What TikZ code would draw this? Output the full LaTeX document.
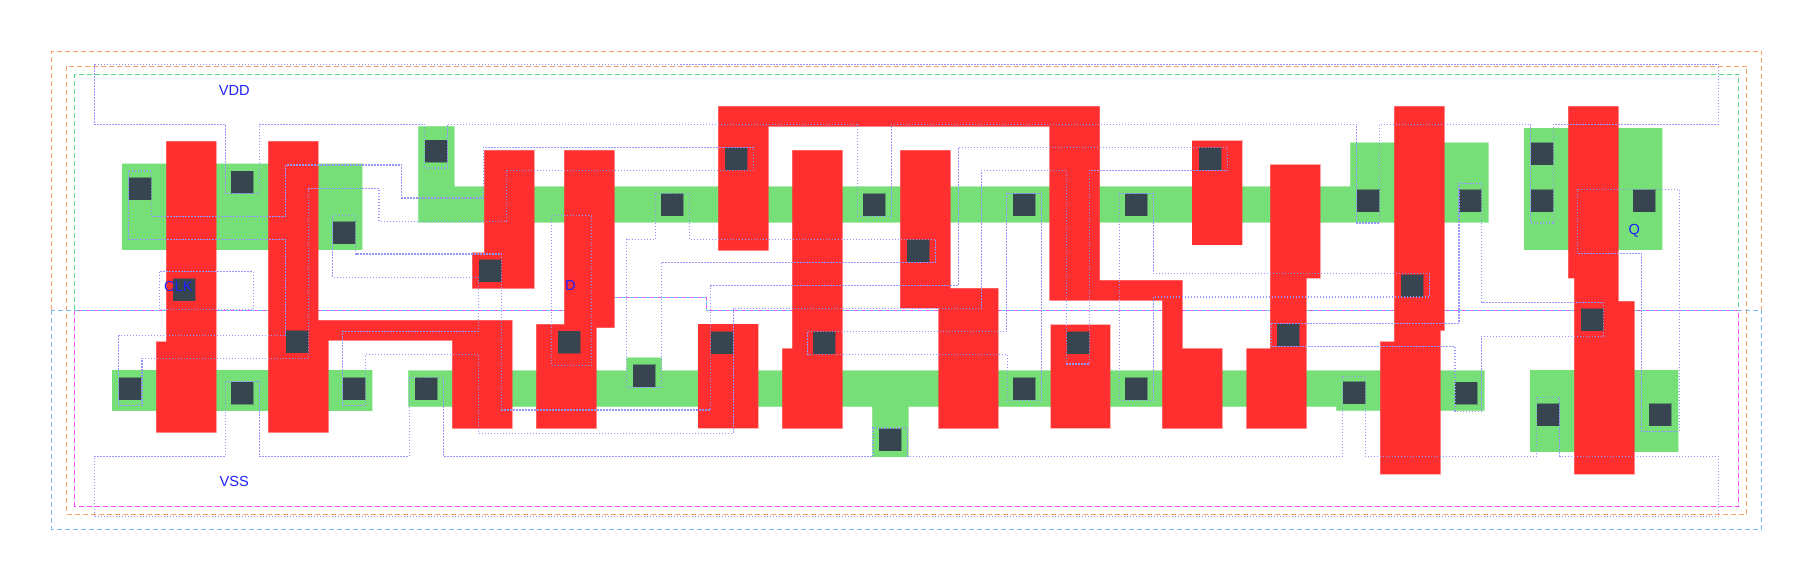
\documentclass[tikz,border=0pt]{standalone}
\usepackage{fontspec}
\setmainfont{Liberation Sans}
\definecolor{polyred}{HTML}{FF2F2F}
\definecolor{diffgreen}{HTML}{77DF77}
\definecolor{contactgrey}{HTML}{374551}
\definecolor{metalblue}{HTML}{9696FF}
\definecolor{wellorange}{HTML}{FF9E66}
\definecolor{wellgreen}{HTML}{55DD88}
\definecolor{wellblue}{HTML}{7DBBF5}
\definecolor{wellpink}{HTML}{FF44FF}
\definecolor{labelblue}{HTML}{1F1FFF}
\tikzset{
  diff/.style={fill=diffgreen,draw=diffgreen,draw opacity=.4,line width=.5pt},
  poly/.style={fill=polyred,draw=polyred,draw opacity=.35,line width=.6pt},
  contact/.style={fill=contactgrey,draw=contactgrey,draw opacity=.45,line width=.5pt},
  metal/.style={draw=metalblue,line width=.55pt,dash pattern=on .75pt off .75pt},
  well/.style={line width=.55pt,dash pattern=on 2.5pt off 1.5pt},
  pin/.style={text=labelblue,font=\fontsize{7.3pt}{8pt}\selectfont,inner sep=0pt}
}
\begin{document}
\begin{tikzpicture}[x=0.5pt,y=-0.5pt]
\useasboundingbox (0,0) rectangle (1813,581);
% well and cell boundaries
\draw[well,wellorange] (51.5,310.5) -- (51.5,51.5) -- (1761.5,51.5) -- (1761.5,310.5) -- (706.7,310.5) -- (706.7,297.7) -- (590,297.7) -- (590,310.5) -- cycle;
\draw[well,wellorange] (66.5,66.5) rectangle (1746.5,514.5);
\draw[well,wellgreen] (74.5,310.5) -- (74.5,74.5) -- (1738.5,74.5) -- (1738.5,310.5) -- (706.7,310.5) -- (706.7,297.7) -- (590,297.7) -- (590,310.5) -- cycle;
\draw[well,wellpink] (74.5,310.5) -- (74.5,506.5) -- (1738.5,506.5) -- (1738.5,310.5) -- (706.7,310.5) -- (706.7,297.7) -- (590,297.7) -- (590,310.5) -- cycle;
\draw[well,wellblue] (51.5,310.5) -- (51.5,529.5) -- (1761.5,529.5) -- (1761.5,310.5) -- (706.7,310.5) -- (706.7,297.7) -- (590,297.7) -- (590,310.5) -- cycle;
% diffusion
\draw[diff] (122.3,164) rectangle (362,250);
\draw[diff] (418.3,126.5) -- (454.3,126.5) -- (454.3,186.7) -- (1350.3,186.7) -- (1350.3,143) -- (1488.3,143) -- (1488.3,222.5) -- (418.3,222.5) -- cycle;
\draw[diff] (1524.3,128.5) rectangle (1662.3,250);
\draw[diff] (112.3,370.5) rectangle (372.3,410.7);
\draw[diff] (408.3,370.7) -- (626.7,370.7) -- (626.7,358) -- (661.7,358) -- (661.7,370.7) -- (1484.3,370.7) -- (1484.3,410.7) -- (1336.3,410.7) -- (1336.3,406.7) -- (908.3,406.7) -- (908.3,457) -- (872.3,457) -- (872.3,406.7) -- (408.3,406.7) -- cycle;
\draw[diff] (1530.3,370.5) rectangle (1678.3,452);
% polysilicon
\draw[poly] (166.3,141.5) -- (216,141.5) -- (216,432.5) -- (156.3,432.5) -- (156.3,342) -- (166.3,342) -- cycle;
\draw[poly] (268.3,141.5) -- (318,141.5) -- (318,320.5) -- (512,320.5) -- (512,428.5) -- (452.3,428.5) -- (452.3,340.5) -- (328.3,340.5) -- (328.3,432.5) -- (268.3,432.5) -- cycle;
\draw[poly] (484.3,150.5) -- (534,150.5) -- (534,288.5) -- (472.3,288.5) -- (472.3,253) -- (484.3,253) -- cycle;
\draw[poly] (564.3,150.5) -- (614.3,150.5) -- (614.3,327.7) -- (596.3,327.7) -- (596.3,428.5) -- (536.3,428.5) -- (536.3,324.5) -- (564.3,324.5) -- cycle;
\draw[poly] (718.3,106.5) -- (1099.7,106.5) -- (1099.7,280.5) -- (1182.3,280.5) -- (1182.3,348.7) -- (1222,348.7) -- (1222,428.5) -- (1162.3,428.5) -- (1162.3,300.5) -- (1049.7,300.5) -- (1049.7,126.5) -- (768.3,126.5) -- (768.3,250.5) -- (718.3,250.5) -- cycle;
\draw[poly] (698.3,324.5) rectangle (758,428.5);
\draw[poly] (792.3,150.5) -- (842.3,150.5) -- (842.3,428.5) -- (782.3,428.5) -- (782.3,348.7) -- (792.3,348.7) -- cycle;
\draw[poly] (900.3,150.5) -- (950.3,150.5) -- (950.3,288.5) -- (998,288.5) -- (998,428.5) -- (938.7,428.5) -- (938.7,308) -- (900.3,308) -- cycle;
\draw[poly] (1050.7,324.7) rectangle (1110,428.5);
\draw[poly] (1192.3,140.7) rectangle (1242.3,244.7);
\draw[poly] (1270.3,165) -- (1320,165) -- (1320,278) -- (1306.3,278) -- (1306.3,428.5) -- (1246.7,428.5) -- (1246.7,348.7) -- (1270.3,348.7) -- cycle;
\draw[poly] (1394.3,106.5) -- (1444.3,106.5) -- (1444.3,330.5) -- (1440.3,330.5) -- (1440.3,474) -- (1380.3,474) -- (1380.3,342) -- (1394.3,342) -- cycle;
\draw[poly] (1568.3,106.5) -- (1618.3,106.5) -- (1618.3,301.5) -- (1634.3,301.5) -- (1634.3,474) -- (1574.3,474) -- (1574.3,278) -- (1568.3,278) -- cycle;
% contacts
\foreach \cx/\cy in {129.3/177.7,231.3/171.3,333.3/221.7,173.3/279,425.3/140.3,119.3/377.7,231.3/382.3,286.3/330.7,343.3/377.7,415.3/378,479.3/260,725.3/148,661.3/194,863.3/194,907.3/240,558/331.3,633.3/365,711.3/331.7,813.3/332,879.3/428.7,1013/194,1125.3/194,1199.3/148,1067/332,1013.3/378,1125.3/378,1277.3/324.3,1343.3/382,1357.3/189.7,1459.3/189.7,1531.3/142.7,1531.3/189.7,1633.3/189.7,1401.3/274.7,1581/308.7,1455.3/382.3,1537.3/403.7,1649.3/403.7}
  \draw[contact] (\cx,\cy) rectangle ++(22,22);
% metal outlines
\draw[metal] (94.3,64.3) -- (94.3,124.3) -- (225.3,124.3) -- (225.3,193.3) -- (259.3,193.3) -- (259.3,124.3) -- (424.7,124.3) -- (424.7,168) -- (447.3,168) -- (447.3,124.3) -- (857.3,124.3) -- (857.3,216.3) -- (891.3,216.3) -- (891.3,124.3) -- (1356.7,124.3) -- (1356.7,223) -- (1379.7,223) -- (1379.7,124.3) -- (1530.7,124.3) -- (1530.7,223) -- (1553.3,223) -- (1553.3,124.3) -- (1718.3,124.3) -- (1718.3,64.3) -- cycle;
\draw[metal] (94.3,516.3) -- (94.3,456.3) -- (225.3,456.3) -- (225.3,381.3) -- (259.3,381.3) -- (259.3,456.3) -- (409.3,456.3) -- (409.3,377.7) -- (443.3,377.7) -- (443.3,456.3) -- (873,456.3) -- (873,428) -- (907.7,428) -- (907.7,456.3) -- (1342.7,456.3) -- (1342.7,376.3) -- (1365.3,376.3) -- (1365.3,456.3) -- (1536.7,456.3) -- (1536.7,397.3) -- (1559.7,397.3) -- (1559.7,456.3) -- (1718.3,456.3) -- (1718.3,516.3) -- cycle;
\draw[metal] (128.7,171) -- (151.7,171) -- (151.7,216.3) -- (285.7,216.3) -- (285.7,165) -- (401.7,165) -- (401.7,198) -- (483.3,198) -- (483.3,147.3) -- (753.7,147.3) -- (753.7,170.3) -- (506.7,170.3) -- (506.7,221.3) -- (379,221.3) -- (379,188.7) -- (308.7,188.7) -- (308.7,358.3) -- (142,358.3) -- (142,405.7) -- (118.7,405.7) -- (118.7,335.7) -- (285.7,335.7) -- (285.7,239.3) -- (128.7,239.3) -- cycle;
\draw[metal] (332.7,215.7) -- (355.7,215.7) -- (355.7,254) -- (501.7,254) -- (501.7,410) -- (710.7,410) -- (710.7,285.7) -- (958.3,285.7) -- (958.3,147.3) -- (1227.3,147.3) -- (1227.3,170.3) -- (1089.3,170.3) -- (1089.3,364) -- (1066.3,364) -- (1066.3,170.3) -- (981.3,170.3) -- (981.3,308.3) -- (733.3,308.3) -- (733.3,433.3) -- (478.3,433.3) -- (478.3,354.3) -- (365.7,354.3) -- (365.7,405.7) -- (342.7,405.7) -- (342.7,331.3) -- (478.3,331.3) -- (478.3,277.3) -- (332.7,277.3) -- cycle;
\draw[metal] (551.3,215.7) rectangle (591.7,365.3);
\draw[metal] (655.7,193.3) -- (689.3,193.3) -- (689.3,239.3) -- (935.7,239.3) -- (935.7,262.3) -- (661.3,262.3) -- (661.3,387.3) -- (626.7,387.3) -- (626.7,239.3) -- (655.7,239.3) -- cycle;
\draw[metal] (807.7,331.7) -- (1006.7,331.7) -- (1006.7,193.3) -- (1041.3,193.3) -- (1041.3,400.3) -- (1007.3,400.3) -- (1007.3,354.3) -- (807.7,354.3) -- cycle;
\draw[metal] (1119.3,193.3) -- (1153.3,193.3) -- (1153.3,273.7) -- (1429.3,273.7) -- (1429.3,297) -- (1153.3,297) -- (1153.3,400.3) -- (1119.3,400.3) -- cycle;
\draw[metal] (1271.3,323.3) -- (1459,323.3) -- (1459,183.3) -- (1481.7,183.3) -- (1481.7,302.3) -- (1603.7,302.3) -- (1603.7,336.3) -- (1481.3,336.3) -- (1481.3,411.3) -- (1455,411.3) -- (1455,346.7) -- (1271.3,346.7) -- cycle;
\draw[metal] (1577.7,189.3) -- (1679.3,189.3) -- (1679.3,431.3) -- (1641.3,431.3) -- (1641.3,253.3) -- (1577.7,253.3) -- cycle;
\draw[metal] (159.7,271.7) rectangle (253.3,309.7);
% labels
\node[pin] (vdd) at (234.3,90) {VDD};
\node[pin] (vss) at (234.3,481.7) {VSS};
\node[pin] (clk) at (178.3,286) {CLK};
\node[pin] (d) at (570.3,285.5) {D};
\node[pin] (q) at (1634.3,230.5) {Q};
\end{tikzpicture}
\end{document}
